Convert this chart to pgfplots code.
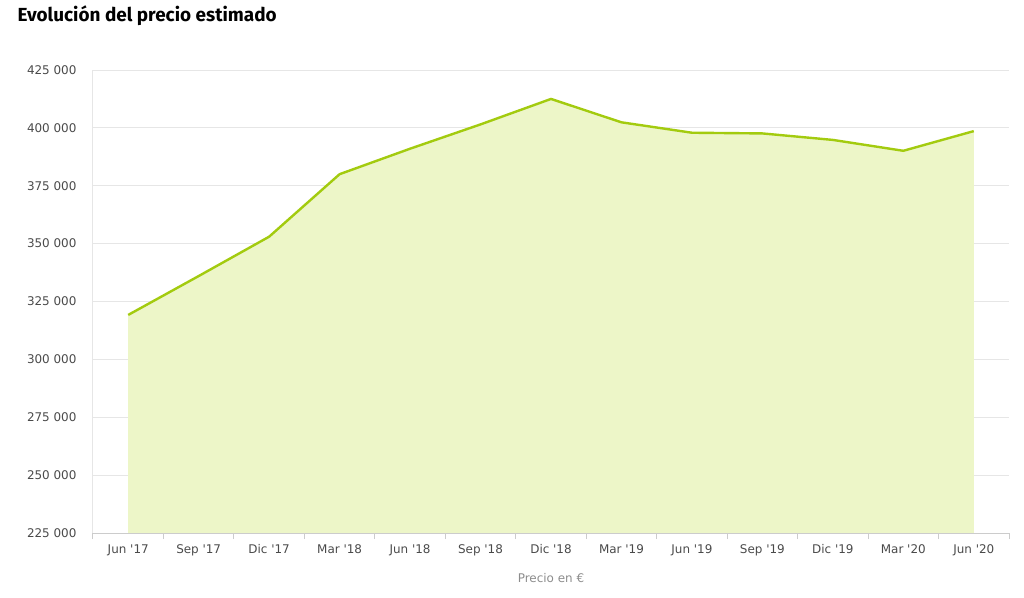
\documentclass[border=0pt]{standalone}
\usepackage{fontspec}
\setmainfont{DejaVu Sans}
\newfontfamily\titlefont{Fira Sans}
\usepackage{pgfplots}
\pgfplotsset{compat=1.18}
\definecolor{linegreen}{HTML}{A3CB0F}
\definecolor{fillgreen}{HTML}{EDF6C8}
\definecolor{gridgray}{HTML}{E6E6E6}
\definecolor{axisgray}{HTML}{CCCCCC}
\definecolor{labgray}{HTML}{4A4A4A}
\newcommand{\q}{\textquotesingle}
\begin{document}
\begin{tikzpicture}[x=1bp,y=1bp]
\path (-93bp,-65bp) rectangle (931bp,533bp);
\begin{axis}[
  at={(0,0)}, anchor=south west,
  scale only axis, width=916bp, height=463bp,
  xmin=-0.5, xmax=12.5, ymin=225000, ymax=425000,
  axis x line=bottom, axis y line=left,
  axis line style={-},
  x axis line style={draw=axisgray, line width=1bp},
  y axis line style={draw=gridgray, line width=1bp},
  xtick={0,...,12},
  xticklabels={Jun \q17,Sep \q17,Dic \q17,Mar \q18,Jun \q18,Sep \q18,Dic \q18,Mar \q19,Jun \q19,Sep \q19,Dic \q19,Mar \q20,Jun \q20},
  minor xtick={-0.5,0.5,...,12.5},
  major tick length=0pt,
  minor tick length=6bp,
  xtick style={draw=none},
  minor x tick style={draw=axisgray, line width=1bp},
  tick align=outside,
  ytick={225000,250000,...,425000},
  scaled y ticks=false,
  ymajorgrids,
  grid style={draw=gridgray, line width=0.8bp},
  ytick style={draw=none},
  /pgf/number format/fixed,
  /pgf/number format/1000 sep={\ },
  /pgf/number format/assume math mode=true,
  yticklabel style={font=\fontsize{12}{14}\selectfont, text=labgray, xshift=-13bp},
  xticklabel style={font=\fontsize{12}{14}\selectfont, text=labgray, yshift=-8bp},
  xlabel={Precio en €},
  xlabel style={font=\fontsize{12}{14}\selectfont, text=gray!90, yshift=-11bp},
  clip=true,
]
\addplot[fill=fillgreen, draw=none] coordinates {
(0,319200) (1,336000) (2,353000) (3,380000) (4,391000) (5,401500) (6,412500)
(7,402400) (8,397900) (9,397600) (10,394800) (11,390100) (12,398600)
} \closedcycle;
\addplot[draw=linegreen, line width=2.4bp] coordinates {
(0,319200) (1,336000) (2,353000) (3,380000) (4,391000) (5,401500) (6,412500)
(7,402400) (8,397900) (9,397600) (10,394800) (11,390100) (12,398600)
};
\end{axis}
\node[anchor=west, font=\titlefont\bfseries\fontsize{19}{22}\selectfont] at (-79bp,517bp) {Evolución del precio estimado};
\end{tikzpicture}
\end{document}
